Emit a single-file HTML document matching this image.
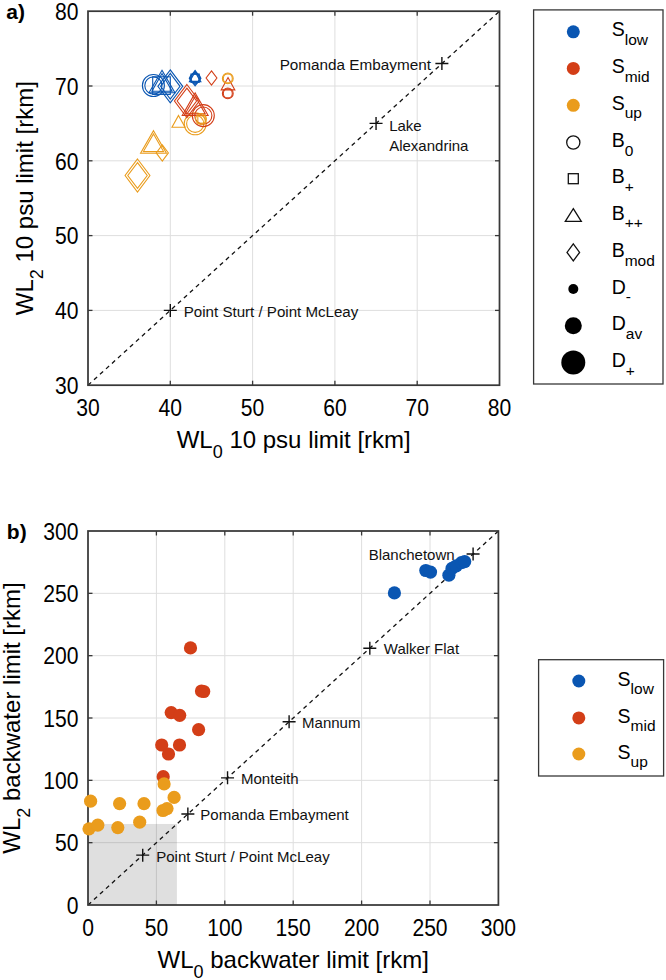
<!DOCTYPE html><html><head><meta charset="utf-8"><style>html,body{margin:0;padding:0;background:#fff;}svg{display:block;font-family:"Liberation Sans",sans-serif;}</style></head><body><svg width="666" height="980" viewBox="0 0 666 980">
<rect width="666" height="980" fill="#fff"/>
<line x1="170.30" y1="11.2" x2="170.30" y2="385.2" stroke="#DEDEDE" stroke-width="1"/>
<line x1="252.60" y1="11.2" x2="252.60" y2="385.2" stroke="#DEDEDE" stroke-width="1"/>
<line x1="334.90" y1="11.2" x2="334.90" y2="385.2" stroke="#DEDEDE" stroke-width="1"/>
<line x1="417.20" y1="11.2" x2="417.20" y2="385.2" stroke="#DEDEDE" stroke-width="1"/>
<line x1="88.0" y1="310.40" x2="499.5" y2="310.40" stroke="#DEDEDE" stroke-width="1"/>
<line x1="88.0" y1="235.60" x2="499.5" y2="235.60" stroke="#DEDEDE" stroke-width="1"/>
<line x1="88.0" y1="160.80" x2="499.5" y2="160.80" stroke="#DEDEDE" stroke-width="1"/>
<line x1="88.0" y1="86.00" x2="499.5" y2="86.00" stroke="#DEDEDE" stroke-width="1"/>
<line x1="88.0" y1="385.2" x2="499.5" y2="11.2" stroke="#111" stroke-width="1.3" stroke-dasharray="4.2 3.9"/>
<path d="M435.39 63.56H448.39M441.89 57.06V70.06" stroke="#111" stroke-width="1.4" fill="none"/>
<text x="431.00" y="69.76" text-anchor="end" font-size="15.3" font-family="Liberation Sans, sans-serif" fill="#111">Pomanda Embayment</text>
<path d="M163.80 310.40H176.80M170.30 303.90V316.90" stroke="#111" stroke-width="1.4" fill="none"/>
<text x="183.80" y="316.70" text-anchor="start" font-size="15.1" font-family="Liberation Sans, sans-serif" fill="#111">Point Sturt / Point McLeay</text>
<path d="M369.55 123.40H382.55M376.05 116.90V129.90" stroke="#111" stroke-width="1.4" fill="none"/>
<text x="389.20" y="131.40" text-anchor="start" font-size="15" font-family="Liberation Sans, sans-serif" fill="#111">Lake</text>
<text x="389.20" y="151.00" text-anchor="start" font-size="15" font-family="Liberation Sans, sans-serif" fill="#111">Alexandrina</text>
<path d="M137.50 159.00L149.93 175.50L137.50 192.00L125.07 175.50Z" fill="none" stroke="#EA9C1C" stroke-width="1.1"/>
<path d="M137.50 162.60L147.22 175.50L137.50 188.40L127.78 175.50Z" fill="none" stroke="#EA9C1C" stroke-width="1.1"/>
<path d="M153.50 130.67L166.43 153.22L140.57 153.22Z" fill="none" stroke="#EA9C1C" stroke-width="1.1" stroke-linejoin="miter"/>
<path d="M153.50 133.95L163.60 151.58L143.40 151.58Z" fill="none" stroke="#EA9C1C" stroke-width="1.1" stroke-linejoin="miter"/>
<path d="M162.30 144.80L168.40 152.90L162.30 161.00L156.20 152.90Z" fill="none" stroke="#EA9C1C" stroke-width="1.1"/>
<path d="M178.50 115.46L185.03 127.22L171.97 127.22Z" fill="none" stroke="#EA9C1C" stroke-width="1.1" stroke-linejoin="miter"/>
<circle cx="195.20" cy="123.80" r="11.00" fill="none" stroke="#EA9C1C" stroke-width="1.1"/>
<circle cx="195.20" cy="123.80" r="8.60" fill="none" stroke="#EA9C1C" stroke-width="1.1"/>
<circle cx="153.40" cy="85.50" r="11.00" fill="none" stroke="#0A56B2" stroke-width="1.1"/>
<circle cx="153.40" cy="85.50" r="8.60" fill="none" stroke="#0A56B2" stroke-width="1.1"/>
<rect x="152.70" y="76.80" width="17.60" height="17.60" fill="none" stroke="#0A56B2" stroke-width="1.1"/>
<path d="M162.00 70.27L174.93 92.82L149.07 92.82Z" fill="none" stroke="#0A56B2" stroke-width="1.1" stroke-linejoin="miter"/>
<path d="M162.00 73.55L172.10 91.18L151.90 91.18Z" fill="none" stroke="#0A56B2" stroke-width="1.1" stroke-linejoin="miter"/>
<path d="M170.30 69.80L182.73 86.30L170.30 102.80L157.87 86.30Z" fill="none" stroke="#0A56B2" stroke-width="1.1"/>
<path d="M170.30 73.40L180.02 86.30L170.30 99.20L160.58 86.30Z" fill="none" stroke="#0A56B2" stroke-width="1.1"/>
<circle cx="195.10" cy="78.20" r="5.00" fill="none" stroke="#0A56B2" stroke-width="1.4"/>
<rect x="191.10" y="74.20" width="8.00" height="8.00" fill="none" stroke="#0A56B2" stroke-width="1.4"/>
<path d="M195.10 71.60L200.60 81.50L189.60 81.50Z" fill="none" stroke="#0A56B2" stroke-width="1.4" stroke-linejoin="miter"/>
<path d="M195.10 70.70L200.75 78.20L195.10 85.70L189.45 78.20Z" fill="none" stroke="#0A56B2" stroke-width="1.4"/>
<path d="M186.90 84.50L199.33 101.00L186.90 117.50L174.47 101.00Z" fill="none" stroke="#D33E17" stroke-width="1.1"/>
<path d="M186.90 88.10L196.62 101.00L186.90 113.90L177.18 101.00Z" fill="none" stroke="#D33E17" stroke-width="1.1"/>
<path d="M195.20 92.97L208.12 115.52L182.27 115.52Z" fill="none" stroke="#D33E17" stroke-width="1.1" stroke-linejoin="miter"/>
<path d="M195.20 96.25L205.30 113.88L185.09 113.88Z" fill="none" stroke="#D33E17" stroke-width="1.1" stroke-linejoin="miter"/>
<circle cx="203.30" cy="115.60" r="11.00" fill="none" stroke="#D33E17" stroke-width="1.1"/>
<circle cx="203.30" cy="115.60" r="8.60" fill="none" stroke="#D33E17" stroke-width="1.1"/>
<path d="M211.50 70.80L216.92 78.00L211.50 85.20L206.08 78.00Z" fill="none" stroke="#D33E17" stroke-width="1.1"/>
<path d="M228.00 77.60L234.83 89.90L221.17 89.90Z" fill="none" stroke="#D33E17" stroke-width="1.1" stroke-linejoin="miter"/>
<circle cx="227.80" cy="93.40" r="5.40" fill="none" stroke="#D33E17" stroke-width="1.1"/>
<circle cx="227.80" cy="93.40" r="4.50" fill="none" stroke="#D33E17" stroke-width="1.1"/>
<circle cx="227.80" cy="78.40" r="5.40" fill="none" stroke="#EA9C1C" stroke-width="1.1"/>
<circle cx="227.80" cy="78.40" r="4.50" fill="none" stroke="#EA9C1C" stroke-width="1.1"/>
<rect x="197.83" y="115.83" width="7.34" height="7.34" fill="none" stroke="#EA9C1C" stroke-width="1.1"/>
<circle cx="201.00" cy="119.00" r="5.40" fill="none" stroke="#EA9C1C" stroke-width="1.1"/>
<rect x="88.0" y="11.2" width="411.5" height="374.0" fill="none" stroke="#383838" stroke-width="1.75"/>
<line x1="170.30" y1="385.2" x2="170.30" y2="380.7" stroke="#383838" stroke-width="1.3"/>
<line x1="170.30" y1="11.2" x2="170.30" y2="15.7" stroke="#383838" stroke-width="1.3"/>
<line x1="252.60" y1="385.2" x2="252.60" y2="380.7" stroke="#383838" stroke-width="1.3"/>
<line x1="252.60" y1="11.2" x2="252.60" y2="15.7" stroke="#383838" stroke-width="1.3"/>
<line x1="334.90" y1="385.2" x2="334.90" y2="380.7" stroke="#383838" stroke-width="1.3"/>
<line x1="334.90" y1="11.2" x2="334.90" y2="15.7" stroke="#383838" stroke-width="1.3"/>
<line x1="417.20" y1="385.2" x2="417.20" y2="380.7" stroke="#383838" stroke-width="1.3"/>
<line x1="417.20" y1="11.2" x2="417.20" y2="15.7" stroke="#383838" stroke-width="1.3"/>
<line x1="88.0" y1="310.40" x2="92.5" y2="310.40" stroke="#383838" stroke-width="1.3"/>
<line x1="499.5" y1="310.40" x2="495.0" y2="310.40" stroke="#383838" stroke-width="1.3"/>
<line x1="88.0" y1="235.60" x2="92.5" y2="235.60" stroke="#383838" stroke-width="1.3"/>
<line x1="499.5" y1="235.60" x2="495.0" y2="235.60" stroke="#383838" stroke-width="1.3"/>
<line x1="88.0" y1="160.80" x2="92.5" y2="160.80" stroke="#383838" stroke-width="1.3"/>
<line x1="499.5" y1="160.80" x2="495.0" y2="160.80" stroke="#383838" stroke-width="1.3"/>
<line x1="88.0" y1="86.00" x2="92.5" y2="86.00" stroke="#383838" stroke-width="1.3"/>
<line x1="499.5" y1="86.00" x2="495.0" y2="86.00" stroke="#383838" stroke-width="1.3"/>
<text transform="translate(88.00,416.20) scale(0.96,1.06)" text-anchor="middle" font-size="22" font-family="Liberation Sans, sans-serif" fill="#000">30</text>
<text transform="translate(170.30,416.20) scale(0.96,1.06)" text-anchor="middle" font-size="22" font-family="Liberation Sans, sans-serif" fill="#000">40</text>
<text transform="translate(252.60,416.20) scale(0.96,1.06)" text-anchor="middle" font-size="22" font-family="Liberation Sans, sans-serif" fill="#000">50</text>
<text transform="translate(334.90,416.20) scale(0.96,1.06)" text-anchor="middle" font-size="22" font-family="Liberation Sans, sans-serif" fill="#000">60</text>
<text transform="translate(417.20,416.20) scale(0.96,1.06)" text-anchor="middle" font-size="22" font-family="Liberation Sans, sans-serif" fill="#000">70</text>
<text transform="translate(499.50,416.20) scale(0.96,1.06)" text-anchor="middle" font-size="22" font-family="Liberation Sans, sans-serif" fill="#000">80</text>
<text transform="translate(78.50,394.00) scale(0.96,1.06)" text-anchor="end" font-size="22" font-family="Liberation Sans, sans-serif" fill="#000">30</text>
<text transform="translate(78.50,319.20) scale(0.96,1.06)" text-anchor="end" font-size="22" font-family="Liberation Sans, sans-serif" fill="#000">40</text>
<text transform="translate(78.50,244.40) scale(0.96,1.06)" text-anchor="end" font-size="22" font-family="Liberation Sans, sans-serif" fill="#000">50</text>
<text transform="translate(78.50,169.60) scale(0.96,1.06)" text-anchor="end" font-size="22" font-family="Liberation Sans, sans-serif" fill="#000">60</text>
<text transform="translate(78.50,94.80) scale(0.96,1.06)" text-anchor="end" font-size="22" font-family="Liberation Sans, sans-serif" fill="#000">70</text>
<text transform="translate(78.50,20.00) scale(0.96,1.06)" text-anchor="end" font-size="22" font-family="Liberation Sans, sans-serif" fill="#000">80</text>
<text transform="translate(6.3,19)" font-size="21" font-weight="bold" font-family="Liberation Sans, sans-serif" fill="#000">a)</text>
<text x="293.75" y="448" text-anchor="middle" font-size="24" font-family="Liberation Sans, sans-serif" fill="#000">WL<tspan font-size="18" dy="10">0</tspan><tspan dy="-10"> 10 psu limit [rkm]</tspan></text>
<text transform="translate(32.7,198.20) rotate(-90)" x="0" y="0" text-anchor="middle" font-size="24" font-family="Liberation Sans, sans-serif" fill="#000">WL<tspan font-size="18" dy="10">2</tspan><tspan dy="-10"> 10 psu limit [rkm]</tspan></text>
<rect x="533.6" y="9.9" width="129.39999999999998" height="374.1" fill="#fff" stroke="#383838" stroke-width="1.3"/>
<circle cx="573.3" cy="31.8" r="6.5" fill="#0A56B2"/>
<circle cx="573.3" cy="68.4" r="6.5" fill="#D33E17"/>
<circle cx="573.3" cy="105.3" r="6.5" fill="#EA9C1C"/>
<circle cx="573.3" cy="142.5" r="6.6" fill="none" stroke="#111" stroke-width="1.3"/>
<rect x="568.3" y="173.7" width="10" height="10" fill="none" stroke="#111" stroke-width="1.3"/>
<path d="M573.3 208.7L581.3 221.3L565.3 221.3Z" fill="none" stroke="#111" stroke-width="1.3"/>
<path d="M573.3 243.9L579.5999999999999 252.4L573.3 260.9L567.0 252.4Z" fill="none" stroke="#111" stroke-width="1.3"/>
<circle cx="573.3" cy="289.0" r="5" fill="#000"/>
<circle cx="573.3" cy="325.8" r="8.5" fill="#000"/>
<circle cx="573.3" cy="362.5" r="12" fill="#000"/>
<text x="611.7" y="36.40" font-size="19.5" font-family="Liberation Sans, sans-serif" fill="#000">S<tspan font-size="15.5" dy="8.5">low</tspan></text>
<text x="611.7" y="73.00" font-size="19.5" font-family="Liberation Sans, sans-serif" fill="#000">S<tspan font-size="15.5" dy="8.5">mid</tspan></text>
<text x="611.7" y="109.90" font-size="19.5" font-family="Liberation Sans, sans-serif" fill="#000">S<tspan font-size="15.5" dy="8.5">up</tspan></text>
<text x="611.7" y="147.10" font-size="19.5" font-family="Liberation Sans, sans-serif" fill="#000">B<tspan font-size="15.5" dy="8.5">0</tspan></text>
<text x="611.7" y="183.30" font-size="19.5" font-family="Liberation Sans, sans-serif" fill="#000">B<tspan font-size="15.5" dy="8.5">+</tspan></text>
<text x="611.7" y="219.60" font-size="19.5" font-family="Liberation Sans, sans-serif" fill="#000">B<tspan font-size="15.5" dy="8.5">++</tspan></text>
<text x="611.7" y="257.00" font-size="19.5" font-family="Liberation Sans, sans-serif" fill="#000">B<tspan font-size="15.5" dy="8.5">mod</tspan></text>
<text x="611.7" y="293.60" font-size="19.5" font-family="Liberation Sans, sans-serif" fill="#000">D<tspan font-size="15.5" dy="8.5">-</tspan></text>
<text x="611.7" y="330.40" font-size="19.5" font-family="Liberation Sans, sans-serif" fill="#000">D<tspan font-size="15.5" dy="8.5">av</tspan></text>
<text x="611.7" y="367.10" font-size="19.5" font-family="Liberation Sans, sans-serif" fill="#000">D<tspan font-size="15.5" dy="8.5">+</tspan></text>
<line x1="156.40" y1="531.0" x2="156.40" y2="905.0" stroke="#DEDEDE" stroke-width="1"/>
<line x1="224.80" y1="531.0" x2="224.80" y2="905.0" stroke="#DEDEDE" stroke-width="1"/>
<line x1="293.20" y1="531.0" x2="293.20" y2="905.0" stroke="#DEDEDE" stroke-width="1"/>
<line x1="361.60" y1="531.0" x2="361.60" y2="905.0" stroke="#DEDEDE" stroke-width="1"/>
<line x1="430.00" y1="531.0" x2="430.00" y2="905.0" stroke="#DEDEDE" stroke-width="1"/>
<line x1="88.0" y1="842.67" x2="498.4" y2="842.67" stroke="#DEDEDE" stroke-width="1"/>
<line x1="88.0" y1="780.33" x2="498.4" y2="780.33" stroke="#DEDEDE" stroke-width="1"/>
<line x1="88.0" y1="718.00" x2="498.4" y2="718.00" stroke="#DEDEDE" stroke-width="1"/>
<line x1="88.0" y1="655.67" x2="498.4" y2="655.67" stroke="#DEDEDE" stroke-width="1"/>
<line x1="88.0" y1="593.33" x2="498.4" y2="593.33" stroke="#DEDEDE" stroke-width="1"/>
<rect x="88.0" y="823.97" width="88.92" height="81.03" fill="#D9D9D9" fill-opacity="0.85"/>
<line x1="156.40" y1="823.97" x2="156.40" y2="905.0" stroke="#C4C4C4" stroke-width="1"/>
<line x1="88.0" y1="842.67" x2="176.92" y2="842.67" stroke="#C4C4C4" stroke-width="1"/>
<line x1="88.0" y1="905.0" x2="498.4" y2="531.0" stroke="#111" stroke-width="1.3" stroke-dasharray="4.2 3.9"/>
<path d="M466.59 554.06H479.59M473.09 547.56V560.56" stroke="#111" stroke-width="1.4" fill="none"/>
<text x="454.59" y="560.46" text-anchor="end" font-size="15" font-family="Liberation Sans, sans-serif" fill="#111">Blanchetown</text>
<path d="M363.31 648.19H376.31M369.81 641.69V654.69" stroke="#111" stroke-width="1.4" fill="none"/>
<text x="383.81" y="653.79" text-anchor="start" font-size="15" font-family="Liberation Sans, sans-serif" fill="#111">Walker Flat</text>
<path d="M282.60 721.74H295.60M289.10 715.24V728.24" stroke="#111" stroke-width="1.4" fill="none"/>
<text x="302.10" y="728.24" text-anchor="start" font-size="15" font-family="Liberation Sans, sans-serif" fill="#111">Mannum</text>
<path d="M221.04 777.84H234.04M227.54 771.34V784.34" stroke="#111" stroke-width="1.4" fill="none"/>
<text x="241.04" y="783.84" text-anchor="start" font-size="15" font-family="Liberation Sans, sans-serif" fill="#111">Monteith</text>
<path d="M181.36 813.99H194.36M187.86 807.49V820.49" stroke="#111" stroke-width="1.4" fill="none"/>
<text x="200.36" y="820.29" text-anchor="start" font-size="15" font-family="Liberation Sans, sans-serif" fill="#111">Pomanda Embayment</text>
<path d="M136.22 855.13H149.22M142.72 848.63V861.63" stroke="#111" stroke-width="1.4" fill="none"/>
<text x="156.22" y="862.13" text-anchor="start" font-size="15" font-family="Liberation Sans, sans-serif" fill="#111">Point Sturt / Point McLeay</text>
<rect x="88.0" y="531.0" width="410.4" height="374.0" fill="none" stroke="#383838" stroke-width="1.75"/>
<line x1="156.40" y1="905.0" x2="156.40" y2="900.5" stroke="#383838" stroke-width="1.3"/>
<line x1="156.40" y1="531.0" x2="156.40" y2="535.5" stroke="#383838" stroke-width="1.3"/>
<line x1="224.80" y1="905.0" x2="224.80" y2="900.5" stroke="#383838" stroke-width="1.3"/>
<line x1="224.80" y1="531.0" x2="224.80" y2="535.5" stroke="#383838" stroke-width="1.3"/>
<line x1="293.20" y1="905.0" x2="293.20" y2="900.5" stroke="#383838" stroke-width="1.3"/>
<line x1="293.20" y1="531.0" x2="293.20" y2="535.5" stroke="#383838" stroke-width="1.3"/>
<line x1="361.60" y1="905.0" x2="361.60" y2="900.5" stroke="#383838" stroke-width="1.3"/>
<line x1="361.60" y1="531.0" x2="361.60" y2="535.5" stroke="#383838" stroke-width="1.3"/>
<line x1="430.00" y1="905.0" x2="430.00" y2="900.5" stroke="#383838" stroke-width="1.3"/>
<line x1="430.00" y1="531.0" x2="430.00" y2="535.5" stroke="#383838" stroke-width="1.3"/>
<line x1="88.0" y1="842.67" x2="92.5" y2="842.67" stroke="#383838" stroke-width="1.3"/>
<line x1="498.4" y1="842.67" x2="493.9" y2="842.67" stroke="#383838" stroke-width="1.3"/>
<line x1="88.0" y1="780.33" x2="92.5" y2="780.33" stroke="#383838" stroke-width="1.3"/>
<line x1="498.4" y1="780.33" x2="493.9" y2="780.33" stroke="#383838" stroke-width="1.3"/>
<line x1="88.0" y1="718.00" x2="92.5" y2="718.00" stroke="#383838" stroke-width="1.3"/>
<line x1="498.4" y1="718.00" x2="493.9" y2="718.00" stroke="#383838" stroke-width="1.3"/>
<line x1="88.0" y1="655.67" x2="92.5" y2="655.67" stroke="#383838" stroke-width="1.3"/>
<line x1="498.4" y1="655.67" x2="493.9" y2="655.67" stroke="#383838" stroke-width="1.3"/>
<line x1="88.0" y1="593.33" x2="92.5" y2="593.33" stroke="#383838" stroke-width="1.3"/>
<line x1="498.4" y1="593.33" x2="493.9" y2="593.33" stroke="#383838" stroke-width="1.3"/>
<circle cx="394.40" cy="592.90" r="6.6" fill="#0A56B2"/>
<circle cx="425.80" cy="570.50" r="6.6" fill="#0A56B2"/>
<circle cx="430.50" cy="572.10" r="6.6" fill="#0A56B2"/>
<circle cx="448.90" cy="575.20" r="6.6" fill="#0A56B2"/>
<circle cx="452.00" cy="568.40" r="6.6" fill="#0A56B2"/>
<circle cx="456.30" cy="565.80" r="6.6" fill="#0A56B2"/>
<circle cx="461.50" cy="562.60" r="6.6" fill="#0A56B2"/>
<circle cx="464.70" cy="561.60" r="6.6" fill="#0A56B2"/>
<circle cx="190.50" cy="647.90" r="6.6" fill="#D33E17"/>
<circle cx="201.50" cy="691.00" r="6.6" fill="#D33E17"/>
<circle cx="203.70" cy="691.50" r="6.6" fill="#D33E17"/>
<circle cx="171.20" cy="712.60" r="6.6" fill="#D33E17"/>
<circle cx="179.70" cy="715.30" r="6.6" fill="#D33E17"/>
<circle cx="198.60" cy="729.70" r="6.6" fill="#D33E17"/>
<circle cx="161.70" cy="745.00" r="6.6" fill="#D33E17"/>
<circle cx="179.50" cy="745.00" r="6.6" fill="#D33E17"/>
<circle cx="168.50" cy="754.00" r="6.6" fill="#D33E17"/>
<circle cx="163.20" cy="776.70" r="6.6" fill="#D33E17"/>
<circle cx="164.10" cy="783.90" r="6.6" fill="#EA9C1C"/>
<circle cx="174.10" cy="797.40" r="6.6" fill="#EA9C1C"/>
<circle cx="163.00" cy="810.50" r="6.6" fill="#EA9C1C"/>
<circle cx="167.00" cy="808.60" r="6.6" fill="#EA9C1C"/>
<circle cx="144.00" cy="803.70" r="6.6" fill="#EA9C1C"/>
<circle cx="90.60" cy="801.20" r="6.6" fill="#EA9C1C"/>
<circle cx="119.60" cy="803.60" r="6.6" fill="#EA9C1C"/>
<circle cx="89.00" cy="828.80" r="6.6" fill="#EA9C1C"/>
<circle cx="97.80" cy="825.20" r="6.6" fill="#EA9C1C"/>
<circle cx="117.80" cy="827.60" r="6.6" fill="#EA9C1C"/>
<circle cx="139.70" cy="822.20" r="6.6" fill="#EA9C1C"/>
<text transform="translate(88.00,936.00) scale(0.96,1.06)" text-anchor="middle" font-size="22" font-family="Liberation Sans, sans-serif" fill="#000">0</text>
<text transform="translate(156.40,936.00) scale(0.96,1.06)" text-anchor="middle" font-size="22" font-family="Liberation Sans, sans-serif" fill="#000">50</text>
<text transform="translate(224.80,936.00) scale(0.96,1.06)" text-anchor="middle" font-size="22" font-family="Liberation Sans, sans-serif" fill="#000">100</text>
<text transform="translate(293.20,936.00) scale(0.96,1.06)" text-anchor="middle" font-size="22" font-family="Liberation Sans, sans-serif" fill="#000">150</text>
<text transform="translate(361.60,936.00) scale(0.96,1.06)" text-anchor="middle" font-size="22" font-family="Liberation Sans, sans-serif" fill="#000">200</text>
<text transform="translate(430.00,936.00) scale(0.96,1.06)" text-anchor="middle" font-size="22" font-family="Liberation Sans, sans-serif" fill="#000">250</text>
<text transform="translate(498.40,936.00) scale(0.96,1.06)" text-anchor="middle" font-size="22" font-family="Liberation Sans, sans-serif" fill="#000">300</text>
<text transform="translate(78.50,913.80) scale(0.96,1.06)" text-anchor="end" font-size="22" font-family="Liberation Sans, sans-serif" fill="#000">0</text>
<text transform="translate(78.50,851.47) scale(0.96,1.06)" text-anchor="end" font-size="22" font-family="Liberation Sans, sans-serif" fill="#000">50</text>
<text transform="translate(78.50,789.13) scale(0.96,1.06)" text-anchor="end" font-size="22" font-family="Liberation Sans, sans-serif" fill="#000">100</text>
<text transform="translate(78.50,726.80) scale(0.96,1.06)" text-anchor="end" font-size="22" font-family="Liberation Sans, sans-serif" fill="#000">150</text>
<text transform="translate(78.50,664.47) scale(0.96,1.06)" text-anchor="end" font-size="22" font-family="Liberation Sans, sans-serif" fill="#000">200</text>
<text transform="translate(78.50,602.13) scale(0.96,1.06)" text-anchor="end" font-size="22" font-family="Liberation Sans, sans-serif" fill="#000">250</text>
<text transform="translate(78.50,539.80) scale(0.96,1.06)" text-anchor="end" font-size="22" font-family="Liberation Sans, sans-serif" fill="#000">300</text>
<text transform="translate(6.8,539)" font-size="21" font-weight="bold" font-family="Liberation Sans, sans-serif" fill="#000">b)</text>
<text x="293.20" y="968" text-anchor="middle" font-size="24" font-family="Liberation Sans, sans-serif" fill="#000">WL<tspan font-size="18" dy="10">0</tspan><tspan dy="-10"> backwater limit [rkm]</tspan></text>
<text transform="translate(20,718.00) rotate(-90)" x="0" y="0" text-anchor="middle" font-size="24" font-family="Liberation Sans, sans-serif" fill="#000">WL<tspan font-size="18" dy="10">2</tspan><tspan dy="-10"> backwater limit [rkm]</tspan></text>
<rect x="538.6" y="659.7" width="125.0" height="116.29999999999995" fill="#fff" stroke="#383838" stroke-width="1.3"/>
<circle cx="578.8" cy="681" r="6.5" fill="#0A56B2"/>
<text x="617.6" y="685.60" font-size="19.5" font-family="Liberation Sans, sans-serif" fill="#000">S<tspan font-size="15.5" dy="8.5">low</tspan></text>
<circle cx="578.8" cy="717.9" r="6.5" fill="#D33E17"/>
<text x="617.6" y="722.50" font-size="19.5" font-family="Liberation Sans, sans-serif" fill="#000">S<tspan font-size="15.5" dy="8.5">mid</tspan></text>
<circle cx="578.8" cy="754" r="6.5" fill="#EA9C1C"/>
<text x="617.6" y="758.60" font-size="19.5" font-family="Liberation Sans, sans-serif" fill="#000">S<tspan font-size="15.5" dy="8.5">up</tspan></text>
</svg></body></html>
